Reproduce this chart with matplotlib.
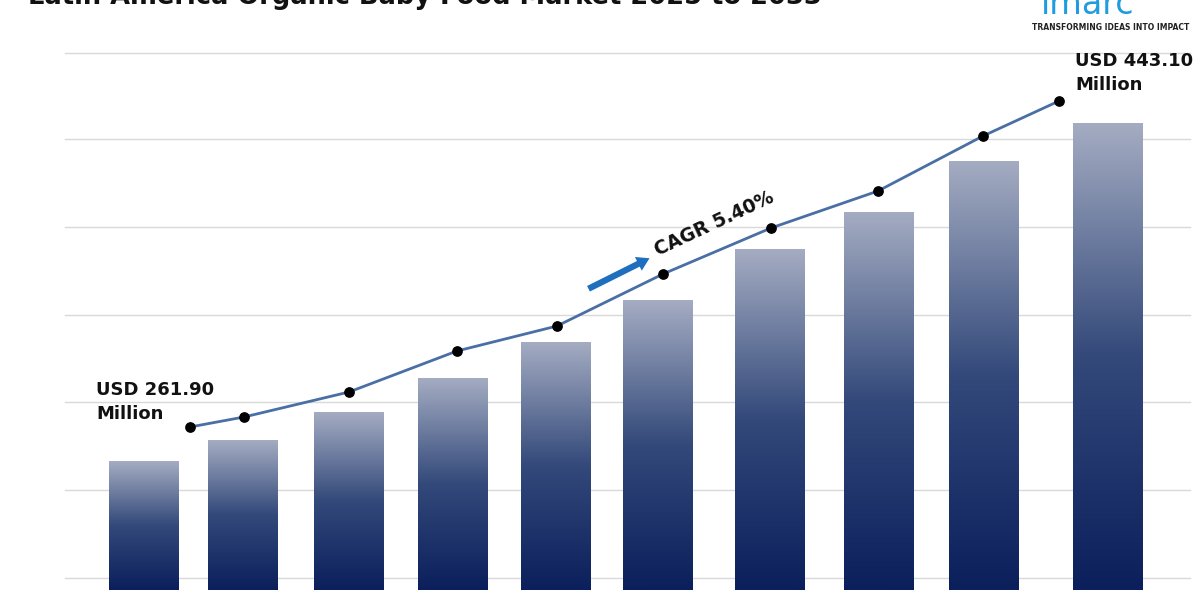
import matplotlib.pyplot as plt
import numpy as np
from matplotlib.colors import LinearSegmentedColormap
from matplotlib.patches import Rectangle

years = [2024, 2025, 2026, 2027, 2028, 2029, 2030, 2031, 2032, 2033]
bar_pos = [144, 243, 349, 453, 556, 658, 770, 879, 984, 1108]
bar_vals = [129, 150, 178, 212, 248, 290, 341, 378, 429, 467]
line_pos = [190, 244, 349, 457, 557, 663, 771, 878, 983, 1059]
line_vals = [163, 173, 198, 239, 264, 316, 362, 399, 454, 489]
grid_vals = [12, 100, 188, 275, 363, 451, 537]

fig = plt.figure(figsize=(12, 6), dpi=100)
ax = fig.add_axes([0, 0, 1, 1])
ax.set_xlim(0, 1200)
ax.set_ylim(-10, 590)
ax.axis('off')

for g in grid_vals:
    ax.plot([65, 1190], [g, g], color='#d9d9d9', lw=1, zorder=0)

cmap = LinearSegmentedColormap.from_list('g', ['#0b1f5c', '#33497a', '#a4acc2'])
grad = np.linspace(0, 1, 256).reshape(-1, 1)
w = 70
for x, v in zip(bar_pos, bar_vals):
    im = ax.imshow(grad, cmap=cmap, origin='lower', aspect='auto',
                   extent=[x - w/2, x + w/2, 0, v], zorder=1)
    r = Rectangle((x - w/2, 0), w, v, transform=ax.transData, fc='none', ec='none')
    ax.add_patch(r)
    im.set_clip_path(r)
ax.set_xlim(0, 1200)
ax.set_ylim(-10, 590)

ax.plot(line_pos, line_vals, color='#4a6fa5', lw=2, zorder=3)
ax.scatter(line_pos, line_vals, color='black', s=45, zorder=4)

ax.text(96, 188, 'USD 261.90\nMillion', fontsize=13, fontweight='bold', ha='left', va='center',
        linespacing=1.45, color='#111')
ax.text(1075, 517, 'USD 443.10\nMillion', fontsize=13, fontweight='bold', ha='left', va='center',
        linespacing=1.45, color='#111')

ax.annotate('', xy=(652, 333), xytext=(586, 300),
            arrowprops=dict(arrowstyle='simple,head_width=1.1,head_length=0.9,tail_width=0.45',
                            color='#1f6fbf', lw=0))
ax.text(660, 330, 'CAGR 5.40%', fontsize=13.5, fontweight='bold', rotation=25, ha='left', va='bottom',
        rotation_mode='anchor', color='#111')

ax.text(28, 593, 'Latin America Organic Baby Food Market 2025 to 2033', fontsize=18.5,
        fontweight='bold', ha='left', va='center', color='#111')
ax.text(1088, 586, 'imarc', fontsize=24, color='#1f9be0', ha='center', va='center')
ax.text(1111, 562, 'TRANSFORMING IDEAS INTO IMPACT', fontsize=5.5, fontweight='bold', color='#222',
        ha='center', va='center')

fig.savefig('out.png', dpi=100)
